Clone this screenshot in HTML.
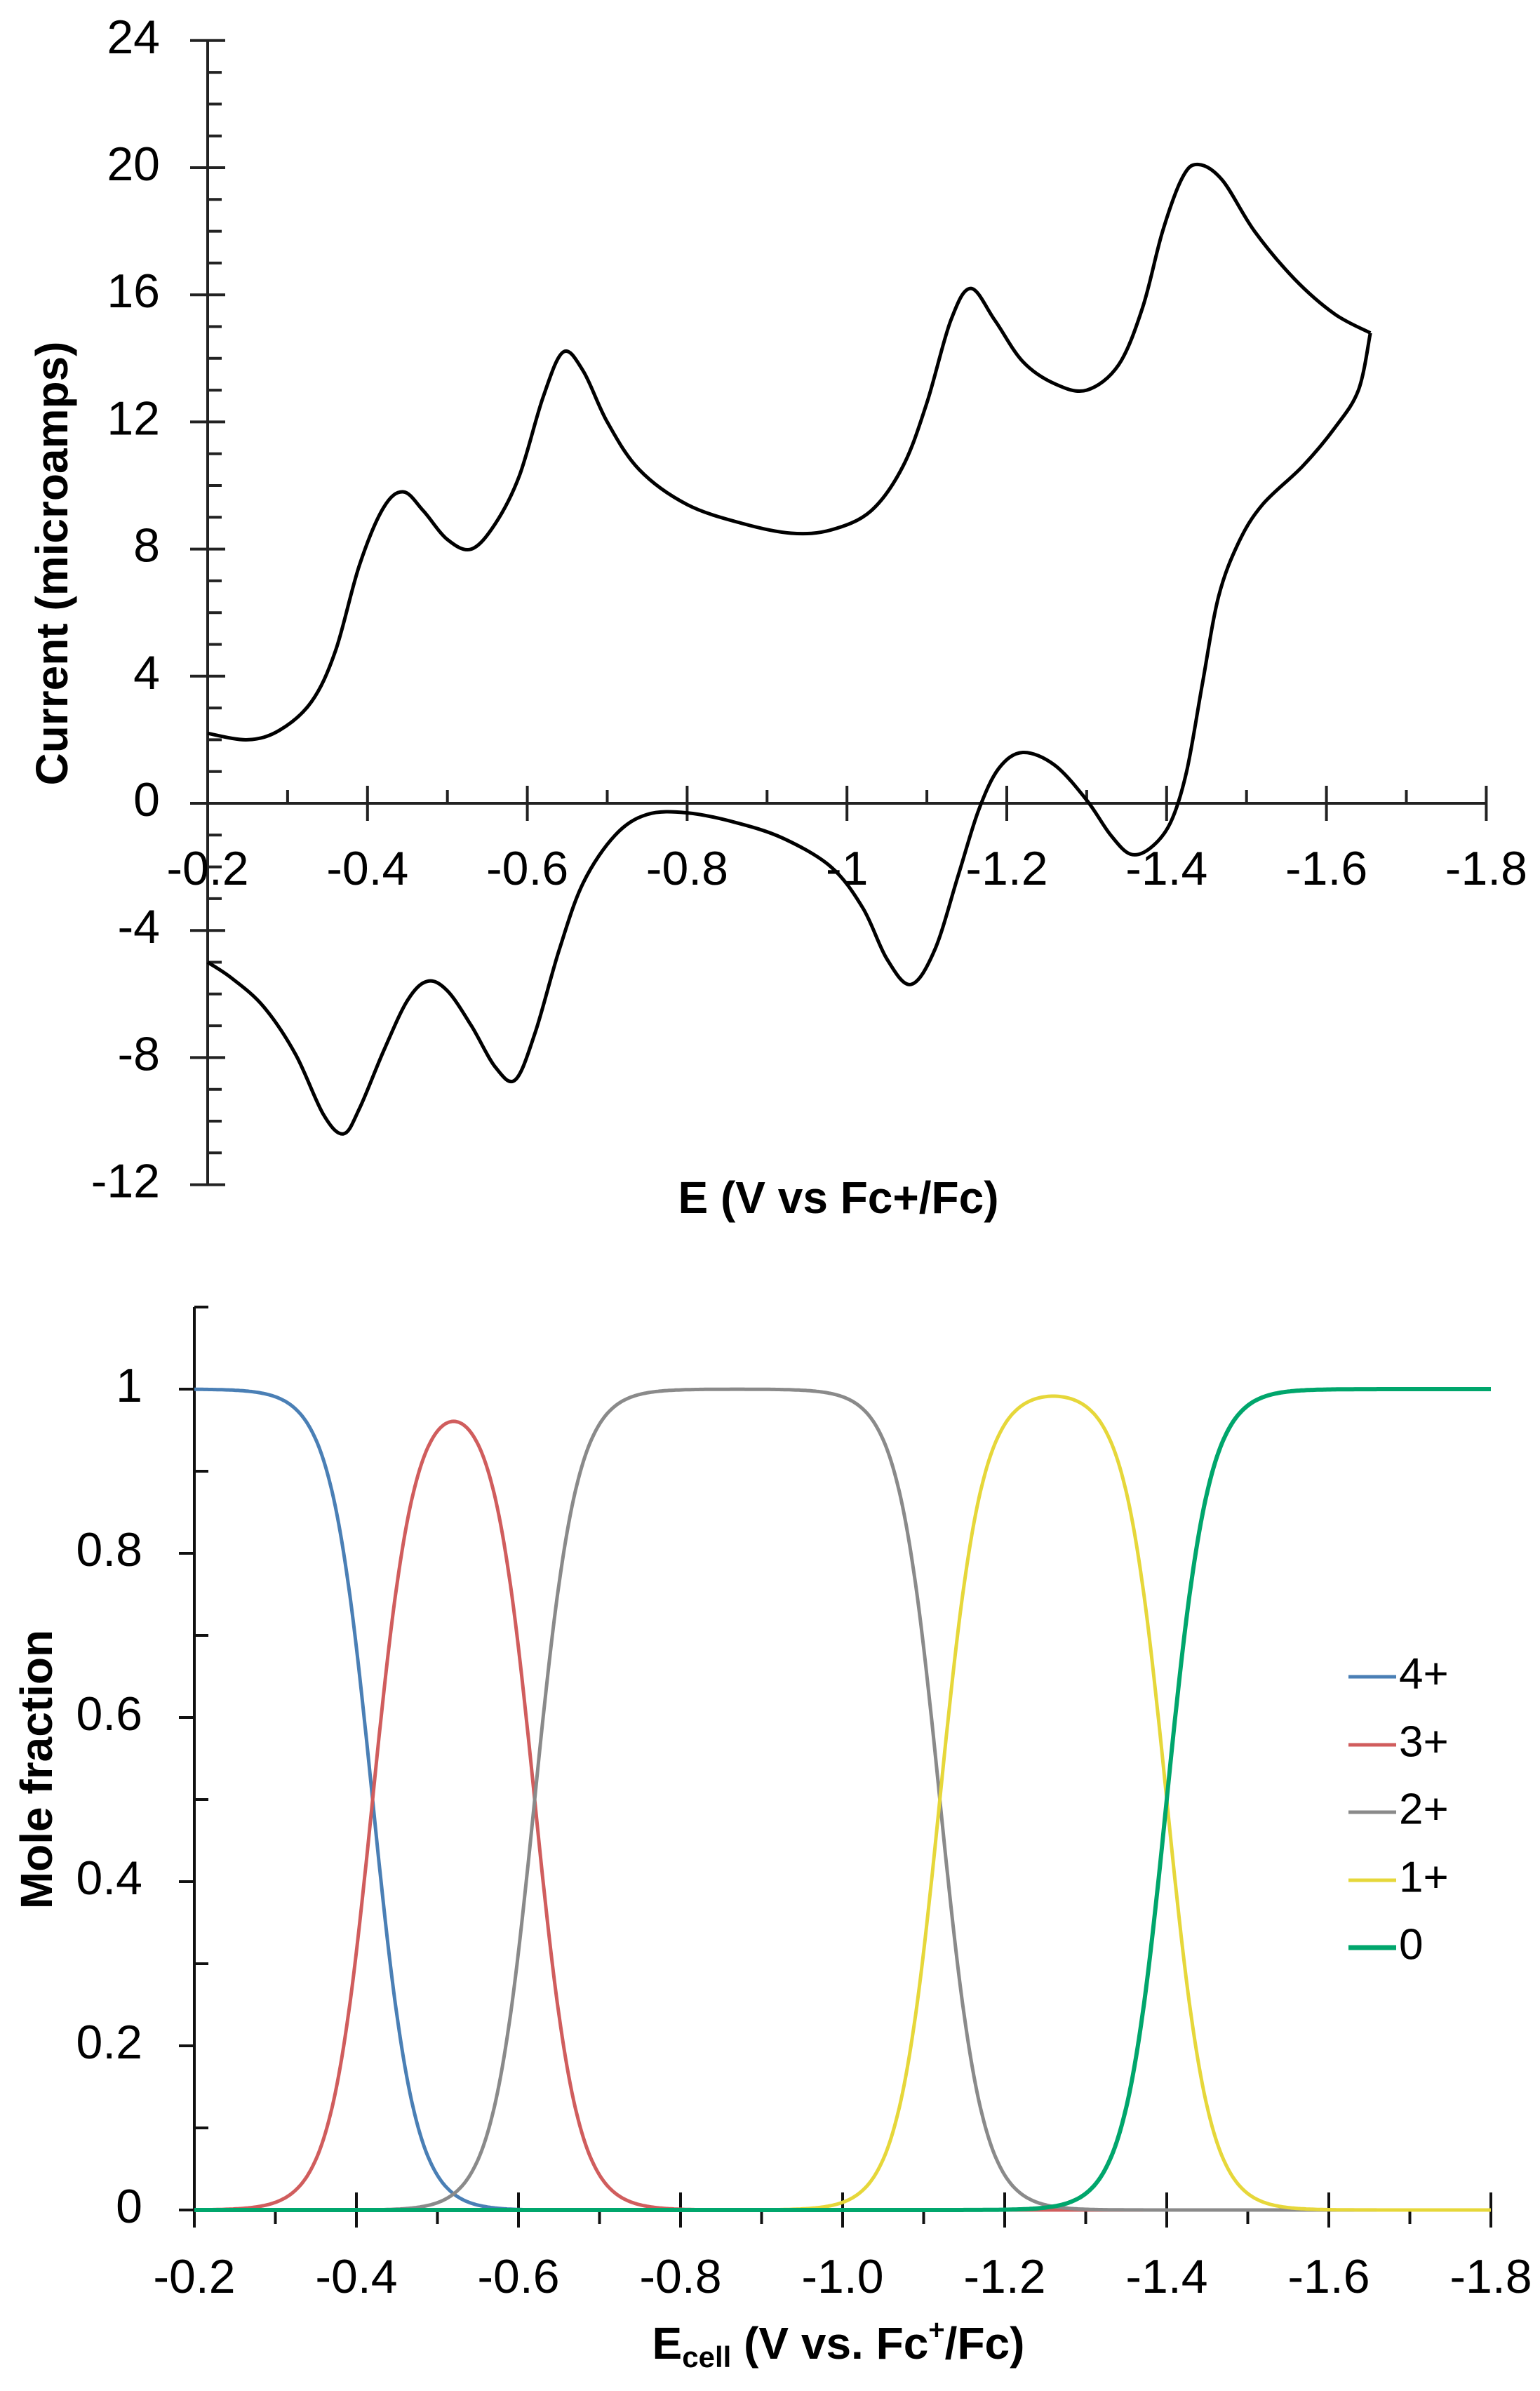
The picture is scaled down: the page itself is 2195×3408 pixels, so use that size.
<!DOCTYPE html>
<html><head><meta charset="utf-8"><style>
html,body{margin:0;padding:0;background:#fff;}
svg{display:block;}
text{font-family:"Liberation Sans",sans-serif;fill:#000;}
</style></head><body>
<svg id="s" width="2195" height="3408" viewBox="0 0 2195 3408" xmlns="http://www.w3.org/2000/svg">
<g id="g"></g>
<text x="79" y="803" font-size="64" font-weight="bold" text-anchor="middle" dominant-baseline="middle" transform="rotate(-90 79 803)">Current (microamps)</text>
<text x="1195" y="1712" font-size="64" font-weight="bold" text-anchor="middle" dominant-baseline="middle">E (V vs Fc+/Fc)</text>
<text x="57" y="2522" font-size="64" font-weight="bold" text-anchor="middle" dominant-baseline="middle" transform="rotate(-90 57 2522)">Mole fraction</text>
<text x="1195" y="3345" font-size="64" font-weight="bold" text-anchor="middle" dominant-baseline="middle">E<tspan font-size="42" dy="18">cell</tspan><tspan dy="-18"> (V vs. Fc</tspan><tspan font-size="40" dy="-22">+</tspan><tspan dy="22">/Fc)</tspan></text>
</svg>
<script>
var g=document.getElementById('g'),NS='http://www.w3.org/2000/svg';
function el(t,a,txt){var e=document.createElementNS(NS,t);for(var k in a)e.setAttribute(k,a[k]);if(txt!=null)e.textContent=txt;g.appendChild(e);return e;}
function line(x1,y1,x2,y2,w,c){el('line',{x1:x1,y1:y1,x2:x2,y2:y2,stroke:c||'#222','stroke-width':w||4});}
var FS=68;
// ---------- TOP CHART ----------
var TX0=296,TXS=1139,TY0=1145,TYS=45.3;
function tx(E){return TX0+(-E-0.2)*TXS;} function ty(I){return TY0-I*TYS;}
line(TX0,ty(24),TX0,ty(-12),4);
line(TX0,TY0,tx(-1.8),TY0,4);
for(var i=-12;i<=24;i++){var y=ty(i);if(i%4==0){line(TX0-25,y,TX0+25,y,4);el('text',{x:228,y:y,'font-size':FS,'text-anchor':'end','dominant-baseline':'middle'},String(i));}else line(TX0,y,TX0+20,y,4);}
for(var k=3;k<=18;k++){var x=tx(-k/10);if(k%2==0){line(x,TY0-25,x,TY0+25,4);}else line(x,TY0-19,x,TY0,4);}
for(var k=2;k<=18;k+=2){var lab=(k==10)?'-1':'-'+String(k/10);el('text',{x:tx(-k/10),y:TY0+98,'font-size':FS,'text-anchor':'middle','dominant-baseline':'middle'},lab);}
var fwd=[[-0.2,2.2],[-0.25,2.0],[-0.29,2.3],[-0.33,3.2],[-0.36,4.8],[-0.39,7.5],[-0.42,9.3],[-0.445,9.8],[-0.47,9.2],[-0.5,8.3],[-0.53,8.0],[-0.56,8.8],[-0.59,10.3],[-0.62,12.8],[-0.645,14.2],[-0.67,13.6],[-0.7,12.0],[-0.74,10.5],[-0.8,9.4],[-0.87,8.8],[-0.93,8.5],[-0.98,8.6],[-1.03,9.2],[-1.07,10.6],[-1.1,12.6],[-1.13,15.2],[-1.155,16.2],[-1.185,15.2],[-1.22,13.9],[-1.26,13.2],[-1.3,13.0],[-1.34,13.8],[-1.37,15.6],[-1.395,18.0],[-1.42,19.7],[-1.44,20.1],[-1.47,19.6],[-1.51,18.0],[-1.56,16.5],[-1.61,15.4],[-1.655,14.8]];
var rev=[[-1.655,14.8],[-1.64,13.0],[-1.61,11.8],[-1.57,10.6],[-1.52,9.4],[-1.49,8.2],[-1.465,6.5],[-1.445,3.8],[-1.425,1.0],[-1.405,-0.6],[-1.38,-1.4],[-1.355,-1.6],[-1.33,-1.0],[-1.3,0.1],[-1.26,1.2],[-1.22,1.6],[-1.19,1.1],[-1.165,-0.2],[-1.14,-2.2],[-1.11,-4.6],[-1.08,-5.7],[-1.05,-4.9],[-1.02,-3.3],[-0.98,-2.0],[-0.92,-1.1],[-0.86,-0.6],[-0.8,-0.3],[-0.75,-0.35],[-0.71,-1.0],[-0.67,-2.5],[-0.64,-4.6],[-0.61,-7.2],[-0.585,-8.7],[-0.56,-8.3],[-0.53,-7.0],[-0.5,-5.9],[-0.475,-5.6],[-0.45,-6.2],[-0.42,-7.8],[-0.39,-9.6],[-0.37,-10.4],[-0.345,-9.8],[-0.31,-7.9],[-0.27,-6.4],[-0.23,-5.5],[-0.2,-5.0]];
function smooth(pts){var d='M'+pts[0][0].toFixed(1)+' '+pts[0][1].toFixed(1);for(var i=0;i<pts.length-1;i++){var p0=pts[i-1]||pts[i],p1=pts[i],p2=pts[i+1],p3=pts[i+2]||p2;var c1=[p1[0]+(p2[0]-p0[0])/6,p1[1]+(p2[1]-p0[1])/6],c2=[p2[0]-(p3[0]-p1[0])/6,p2[1]-(p3[1]-p1[1])/6];d+=' C'+c1[0].toFixed(1)+' '+c1[1].toFixed(1)+' '+c2[0].toFixed(1)+' '+c2[1].toFixed(1)+' '+p2[0].toFixed(1)+' '+p2[1].toFixed(1);}return d;}
function mp(a){return a.map(function(p){return [tx(p[0]),ty(p[1])];});}
el('path',{d:smooth(mp(fwd)),fill:'none',stroke:'#000','stroke-width':5,'stroke-linejoin':'round'});
el('path',{d:smooth(mp(rev)),fill:'none',stroke:'#000','stroke-width':5,'stroke-linejoin':'round'});
// ---------- BOTTOM CHART ----------
var BX0=277,BXS=1155,BY0=3150,BYS=1170;
function bx(E){return BX0+(-E-0.2)*BXS;} function by(v){return BY0-v*BYS;}
line(BX0,by(1.1),BX0,BY0+25,4,'#111');
line(BX0,by(1.1),BX0+20,by(1.1),4,'#111');
for(var k=0;k<=10;k++){var y=by(k/10);if(k%2==0){line(BX0-22,y,BX0,y,4,'#111');el('text',{x:203,y:y,'font-size':FS,'text-anchor':'end','dominant-baseline':'middle'},k==0?'0':k==10?'1':String(k/10));}else line(BX0,y,BX0+20,y,4,'#111');}
line(BX0,BY0,bx(-1.8),BY0,4,'#111');
for(var k=2;k<=18;k++){var x=bx(-k/10);if(k%2==0){line(x,BY0-25,x,BY0+25,4,'#111');el('text',{x:x,y:BY0+100,'font-size':FS,'text-anchor':'middle','dominant-baseline':'middle'},'-'+(k/10).toFixed(1));}else line(x,BY0,x,BY0+20,4,'#111');}
var E0=[-0.42,-0.62,-1.12,-1.40],f=1/0.0257;
var cols=['#4a7fb5','#d05d5d','#8a8a8a','#e6d73a','#00a66c'];
var paths=[[],[],[],[],[]];
for(var i=0;i<=800;i++){var E=-0.2-1.6*i/800;var l=[0],s=0;for(var j=0;j<4;j++){s+=f*(E0[j]-E);l.push(s);}var m=Math.max.apply(null,l);var w=l.map(function(v){return Math.exp(v-m);});var t=w.reduce(function(a,b){return a+b;},0);for(var j=0;j<5;j++)paths[j].push((i?'L':'M')+bx(E).toFixed(1)+' '+by(w[j]/t).toFixed(1));}
[0,1,2,3,4].forEach(function(j){el('path',{d:paths[j].join(''),fill:'none',stroke:cols[j],'stroke-width':j==4?6:5});});
var labs=['4+','3+','2+','1+','0'],ly=[2390,2487,2583,2680,2776];
for(var j=0;j<5;j++){line(1922,ly[j],1990,ly[j],j==4?7:5,cols[j]);el('text',{x:1994,y:ly[j],'font-size':62,'dominant-baseline':'middle'},labs[j]);}
</script>
</body></html>
